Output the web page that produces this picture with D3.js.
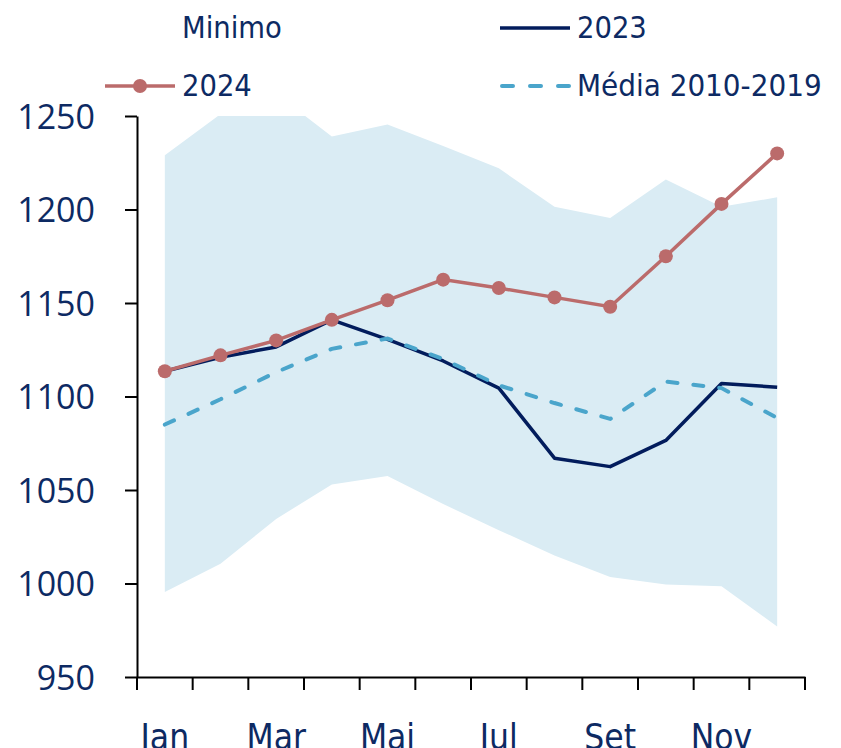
<html>
    <head>
        <style>
            body { margin: 0; background: #ffffff; }
            .lbl { font-family: "DejaVu Sans Condensed", "DejaVu Sans", sans-serif; font-stretch: condensed; fill: #0d2a63; }
            .ylbl { font-family: "Open Sans", "Noto Sans", sans-serif; fill: #0d2a63; }
        </style>
    </head>
    <body>
        <svg id="chart" width="841" height="748"></svg>

        <script src="https://d3js.org/d3.v7.min.js"></script>
        <script>
            // data
            var months = ["Jan","Fev","Mar","Abr","Mai","Jun","Jul","Ago","Set","Out","Nov","Dez"];
            var minimo = [995.5, 1010.5, 1034.5, 1053, 1057.5, 1042.5, 1028.5, 1015, 1003.5, 999.5, 998.5, 977];
            var maximo = [1229, 1251, 1262, 1239, 1245.5, 1234, 1222, 1201.5, 1195.5, 1216, 1201.5, 1206.5];
            var s2023 = [1113.5, 1121, 1126.5, 1141, 1130.5, 1119, 1104.5, 1067, 1062.5, 1076.5, 1107, 1105];
            var s2024 = [1113.5, 1122, 1130, 1141, 1151.5, 1162.5, 1158, 1153, 1148, 1175, 1203, 1230];
            var media = [1085, 1098.5, 1113, 1125.5, 1131, 1120, 1106, 1096.5, 1088, 1108, 1104.5, 1088.5];
            var yTicks = [950, 1000, 1050, 1100, 1150, 1200, 1250];

            var navy = "#021c5c";
            var rose = "#bb6b6b";
            var dashBlue = "#4aa5cb";
            var bandFill = "#daecf4";

            var svg = d3.select("#chart");

            var x = d3.scaleBand().domain(months).range([137, 805]).padding(0);
            var y = d3.scaleLinear().domain([950, 1250]).range([677, 116]);
            var cx = function(i){ return x(months[i]) + x.bandwidth() / 2; };

            svg.append("defs").append("clipPath").attr("id", "plotclip")
                .append("rect")
                .attr("x", 137).attr("y", y(1250))
                .attr("width", 668).attr("height", y(950) - y(1250));

            // band between minimum and maximum
            var area = d3.area()
                .x(function(d, i){ return cx(i); })
                .y0(function(d, i){ return y(minimo[i]); })
                .y1(function(d, i){ return y(maximo[i]); });

            svg.append("path")
                .datum(months)
                .attr("d", area)
                .attr("fill", bandFill)
                .attr("clip-path", "url(#plotclip)");

            var line = d3.line()
                .x(function(d, i){ return cx(i); })
                .y(function(d){ return y(d); });

            svg.append("path").datum(s2023)
                .attr("d", line).attr("fill", "none")
                .attr("stroke", navy).attr("stroke-width", 3.5)
                .attr("stroke-linejoin", "round");

            svg.append("path").datum(media)
                .attr("d", line).attr("fill", "none")
                .attr("stroke", dashBlue).attr("stroke-width", 4)
                .attr("stroke-linecap", "round")
                .attr("stroke-dasharray", "10,16");

            svg.append("path").datum(s2024)
                .attr("d", line).attr("fill", "none")
                .attr("stroke", rose).attr("stroke-width", 3.5);

            svg.selectAll(".dot").data(s2024).enter()
                .append("circle")
                .attr("cx", function(d, i){ return cx(i); })
                .attr("cy", function(d){ return y(d); })
                .attr("r", 7)
                .attr("fill", rose);

            // y axis
            var yAxis = svg.append("g")
                .attr("transform", "translate(137,0)")
                .call(d3.axisLeft(y).tickValues(yTicks).tickFormat(d3.format("d"))
                    .tickSize(12).tickPadding(30).tickSizeOuter(0));
            yAxis.select(".domain").attr("stroke", "#000").attr("stroke-width", 2);
            yAxis.selectAll(".tick line").attr("stroke", "#000").attr("stroke-width", 2);
            yAxis.selectAll(".tick text")
                .attr("class", "ylbl")
                .style("font-size", "34px")
                .attr("fill", "#0d2a63")
                .attr("dy", "0.36em");

            // x axis
            var xAxis = svg.append("g")
                .attr("transform", "translate(0,677)")
                .call(d3.axisBottom(x).tickSize(0).tickSizeOuter(0)
                    .tickFormat(function(d, i){ return i % 2 == 0 ? d : ""; }));
            xAxis.select(".domain").attr("stroke", "#000").attr("stroke-width", 2);
            xAxis.selectAll(".tick text")
                .attr("class", "lbl")
                .style("font-size", "35px")
                .attr("fill", "#0d2a63")
                .attr("y", 72)
                .attr("dy", 0);

            // ticks at month boundaries
            var edges = months.map(function(m){ return x(m); }).concat([x.range()[1]]);
            xAxis.selectAll(".edge").data(edges).enter()
                .append("line")
                .attr("x1", function(d){ return d; })
                .attr("x2", function(d){ return d; })
                .attr("y1", 0).attr("y2", 13)
                .attr("stroke", "#000").attr("stroke-width", 2);

            // legend
            var legend = svg.append("g");

            legend.append("rect").attr("x", 105).attr("y", 18).attr("width", 70).attr("height", 18).attr("fill", "#ffffff");
            legend.append("text").attr("class", "lbl").attr("x", 182).attr("y", 38).style("font-size", "30.5px").text("Minimo");

            legend.append("line").attr("x1", 500).attr("x2", 570).attr("y1", 28).attr("y2", 28)
                .attr("stroke", navy).attr("stroke-width", 3.5);
            legend.append("text").attr("class", "lbl").attr("x", 577).attr("y", 38).style("font-size", "30.5px").text("2023");

            legend.append("line").attr("x1", 105).attr("x2", 175).attr("y1", 86).attr("y2", 86)
                .attr("stroke", rose).attr("stroke-width", 3.5);
            legend.append("circle").attr("cx", 140).attr("cy", 86).attr("r", 7).attr("fill", rose);
            legend.append("text").attr("class", "lbl").attr("x", 182).attr("y", 96).style("font-size", "30.5px").text("2024");

            legend.append("line").attr("x1", 502).attr("x2", 570).attr("y1", 86).attr("y2", 86)
                .attr("stroke", dashBlue).attr("stroke-width", 4)
                .attr("stroke-linecap", "round").attr("stroke-dasharray", "11,17");
            legend.append("text").attr("class", "lbl").attr("x", 577).attr("y", 96).style("font-size", "31px").text("Média 2010-2019");
        </script>
    </body>
</html>
